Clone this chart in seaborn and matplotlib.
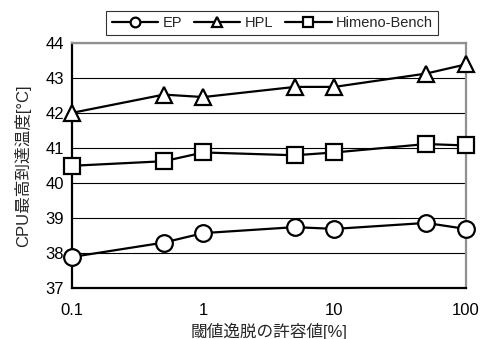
import matplotlib
matplotlib.use("Agg")
import matplotlib.pyplot as plt
import seaborn as sns
import pandas as pd
from matplotlib.ticker import FixedLocator, FixedFormatter, NullLocator

sns.set_theme(style="white")
plt.rcParams['font.family'] = ['Liberation Sans', 'Noto Sans CJK JP', 'DejaVu Sans']

# tolerance for threshold deviation [%]
tolerance = [0.1, 0.5, 1, 5, 10, 50, 100]
ep = [37.89, 38.30, 38.57, 38.74, 38.69, 38.86, 38.69]
hpl = [42.00, 42.52, 42.45, 42.74, 42.74, 43.12, 43.38]
himeno = [40.49, 40.62, 40.87, 40.79, 40.87, 41.11, 41.07]
series_names = ["EP", "HPL", "Himeno-Bench"]
x_ticks = [0.1, 1, 10, 100]
x_tick_labels = ["0.1", "1", "10", "100"]
y_ticks = [37, 38, 39, 40, 41, 42, 43, 44]

df = pd.DataFrame({
    "tol": tolerance * 3,
    "temp": ep + hpl + himeno,
    "bench": [series_names[0]] * len(tolerance)
             + [series_names[1]] * len(tolerance)
             + [series_names[2]] * len(tolerance),
})

fig = plt.figure(figsize=(4.81, 3.39), dpi=100)
ax = fig.add_axes([0.150, 0.150, 0.818, 0.724])

sns.lineplot(
    data=df, x="tol", y="temp", style="bench", hue="bench",
    palette={n: "black" for n in series_names},
    markers={"EP": "o", "HPL": "^", "Himeno-Bench": "s"},
    dashes=False, ax=ax, linewidth=1.6, markersize=12,
    markerfacecolor="white", markeredgecolor="black", markeredgewidth=1.6,
    legend=False,
)
for line in ax.lines:
    line.set_clip_on(False)
    line.set_zorder(5)

ax.set_xscale("log")
ax.set_xlim(0.1, 100)
ax.set_ylim(37, 44)
ax.xaxis.set_major_locator(FixedLocator(x_ticks))
ax.xaxis.set_major_formatter(FixedFormatter(x_tick_labels))
ax.xaxis.set_minor_locator(NullLocator())
ax.set_yticks(y_ticks)
ax.tick_params(axis="both", length=0, labelsize=12, pad=6, colors="black")
ax.tick_params(axis="x", pad=11)

ax.yaxis.grid(True, color="black", linewidth=0.8)
ax.xaxis.grid(False)
ax.set_axisbelow(True)
for side in ["left", "bottom"]:
    ax.spines[side].set_color("black")
    ax.spines[side].set_linewidth(1.6)
for side in ["right", "top"]:
    ax.spines[side].set_color("#909090")
    ax.spines[side].set_linewidth(1.6)

ax.set_xlabel("閾値逸脱の許容値[%]", fontsize=12, labelpad=3)
ax.set_ylabel("CPU最高到達温度[°C]", fontsize=12, labelpad=10)

handles = []
for name, m in zip(series_names, ["o", "^", "s"]):
    h, = ax.plot([], [], color="black", marker=m, markersize=7,
                 markerfacecolor="white", markeredgecolor="black",
                 markeredgewidth=1.6, linewidth=1.6, label=name)
    handles.append(h)
leg = fig.legend(handles=handles, loc="center", bbox_to_anchor=(0.566, 0.932),
                 ncol=3, frameon=True, fontsize=10.5, handlelength=3.2,
                 handletextpad=0.3, columnspacing=0.8, borderpad=0.35,
                 fancybox=False)
leg.get_frame().set_edgecolor("black")
leg.get_frame().set_linewidth(0.8)

fig.savefig("out.png", dpi=100, facecolor="white")
